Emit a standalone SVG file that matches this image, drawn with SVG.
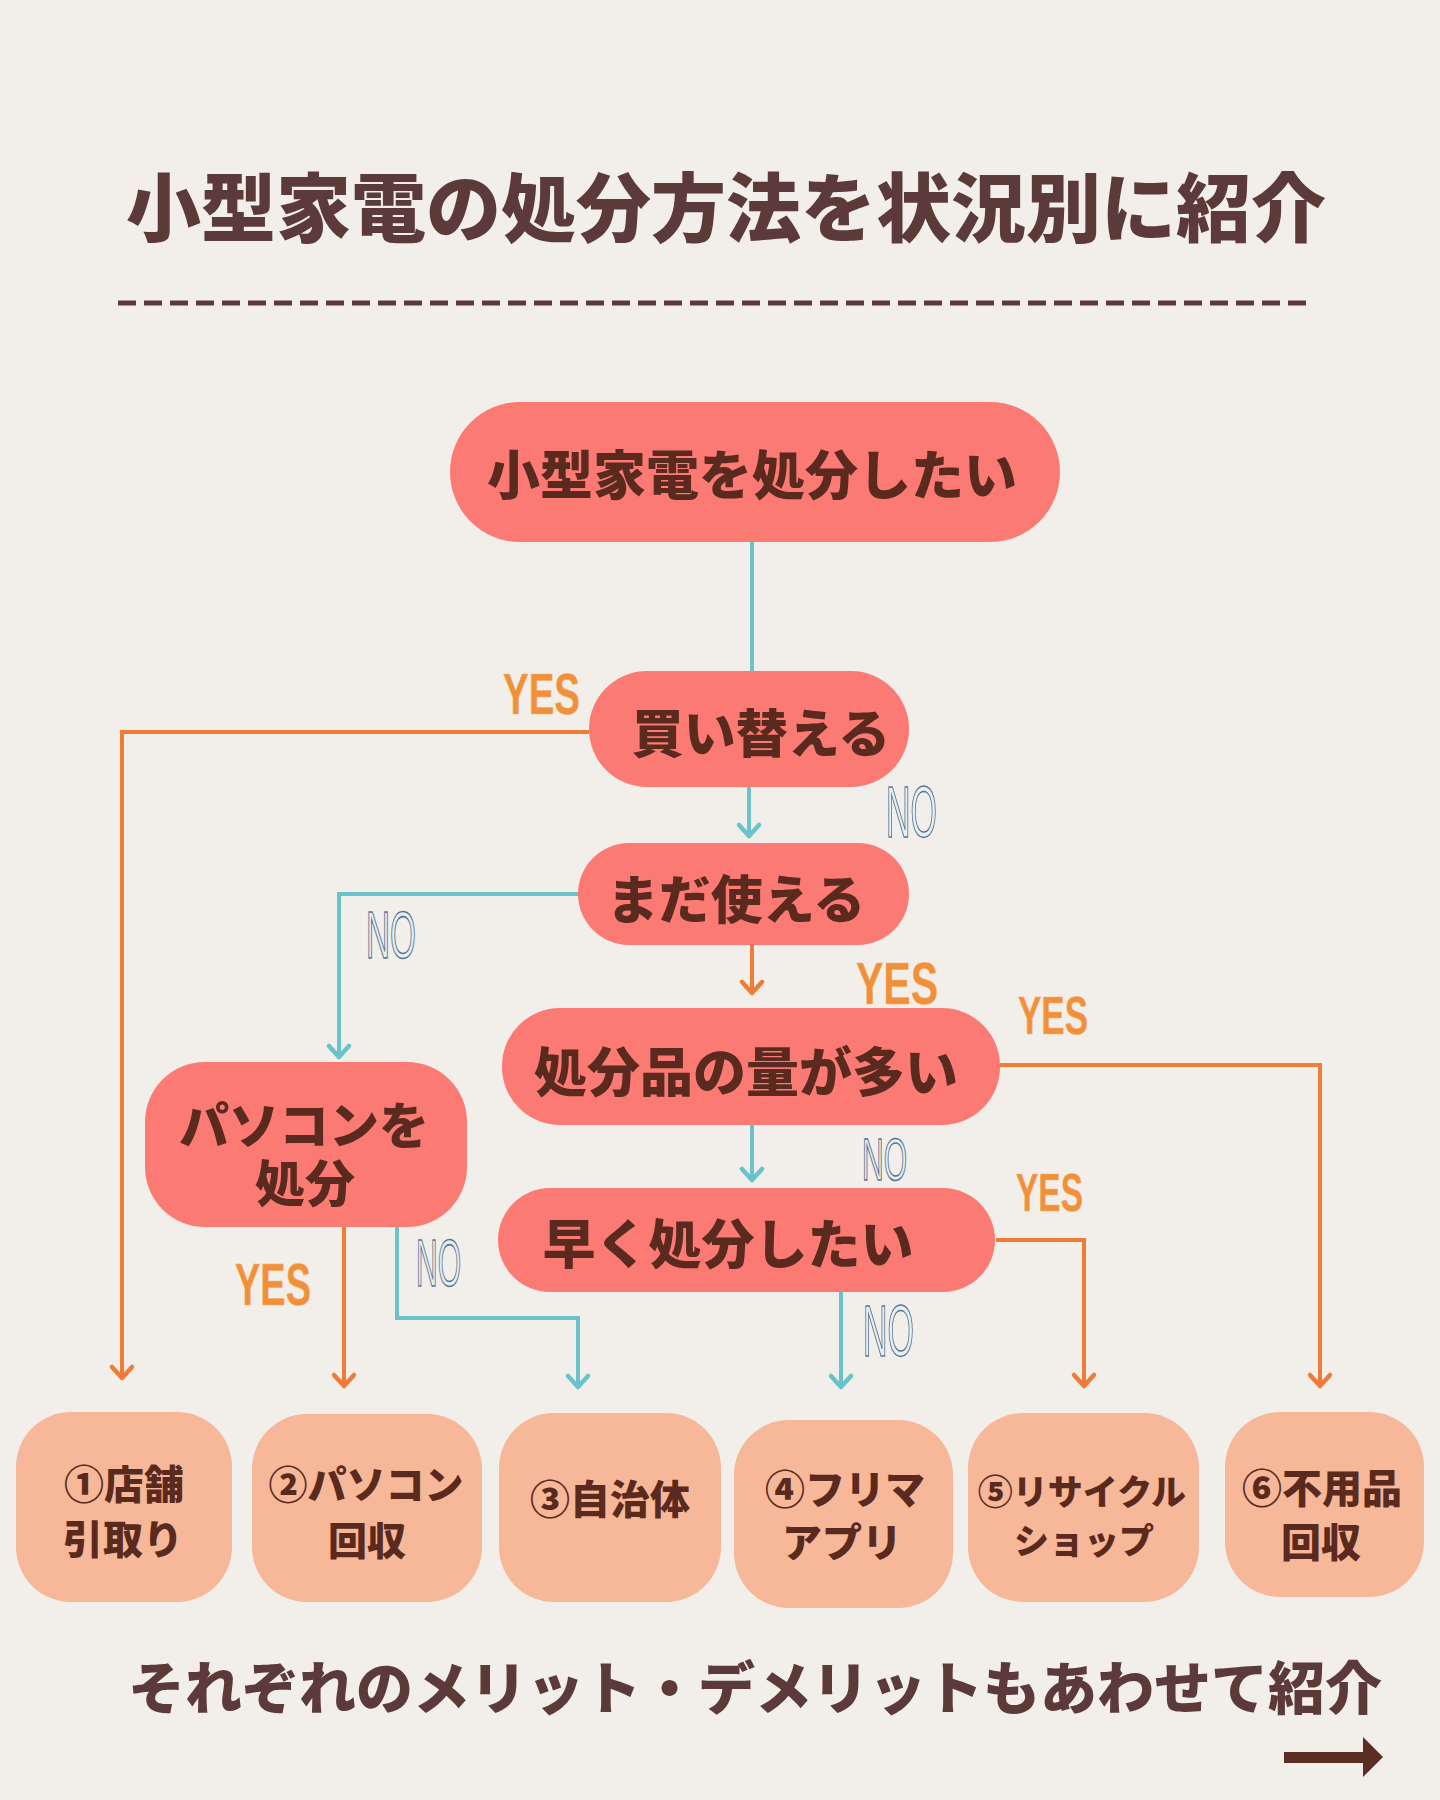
<svg xmlns="http://www.w3.org/2000/svg" width="1440" height="1800" viewBox="0 0 1440 1800">
<defs>
<style>
.jp{font-family:"Noto Sans CJK JP","Noto Sans CJK SC",sans-serif;font-weight:900;text-anchor:middle;dominant-baseline:central}
.title{fill:#5c3a39}
.node{fill:#fc7a74}
.leaf{fill:#f6b898}
.nt{fill:#5b2a1f}
.lt{fill:#5b2a1f}
.teal{fill:none;stroke:#69c3cb;stroke-width:4}
.orng{fill:none;stroke:#ef7d37;stroke-width:4}
.yes{font-family:"Liberation Sans",Arial,sans-serif;font-weight:bold;fill:#f0903a;stroke:#f6b070;stroke-width:0.6}
.no{font-family:"Liberation Sans",Arial,sans-serif;fill:#e3f1f0;stroke:#5b7393;stroke-width:1.6}
</style>
<marker id="at" markerUnits="userSpaceOnUse" markerWidth="30" markerHeight="30" viewBox="-15 -15 30 30" refX="0" refY="0" orient="auto">
<path d="M-11,-10 L0,0 L-11,10" fill="none" stroke="#69c3cb" stroke-width="4.5" stroke-linecap="round" stroke-linejoin="round"/>
</marker>
<marker id="ao" markerUnits="userSpaceOnUse" markerWidth="30" markerHeight="30" viewBox="-15 -15 30 30" refX="0" refY="0" orient="auto">
<path d="M-11,-10 L0,0 L-11,10" fill="none" stroke="#ef7d37" stroke-width="4.5" stroke-linecap="round" stroke-linejoin="round"/>
</marker>
</defs>
<rect width="1440" height="1800" fill="#f2efea"/>

<g id="header">
<text class="jp title" x="726" y="203" style="font-size:75px">小型家電の処分方法を状況別に紹介</text>
<line x1="118" y1="303" x2="1309" y2="303" stroke="#5c3a39" stroke-width="5" stroke-dasharray="18 8"/>
</g>

<g id="connectors">
<path class="teal" d="M752 542 V672"/>
<path class="orng" d="M589 732 H122 V1378" marker-end="url(#ao)"/>
<path class="teal" d="M749 787 V836" marker-end="url(#at)"/>
<path class="teal" d="M578 894 H339 V1057" marker-end="url(#at)"/>
<path class="orng" d="M752 945 V993" marker-end="url(#ao)"/>
<path class="orng" d="M1000 1065 H1320 V1386" marker-end="url(#ao)"/>
<path class="teal" d="M752 1125 V1180" marker-end="url(#at)"/>
<path class="orng" d="M996 1240 H1084 V1386" marker-end="url(#ao)"/>
<path class="teal" d="M841 1292 V1387" marker-end="url(#at)"/>
<path class="orng" d="M344 1227 V1386" marker-end="url(#ao)"/>
<path class="teal" d="M397 1227 V1318 H578 V1387" marker-end="url(#at)"/>
<text class="yes" x="503" y="714" font-size="58" textLength="77" lengthAdjust="spacingAndGlyphs">YES</text>
<text class="no" x="886" y="837" font-size="72" textLength="51" lengthAdjust="spacingAndGlyphs">NO</text>
<text class="no" x="366" y="958" font-size="67" textLength="50" lengthAdjust="spacingAndGlyphs">NO</text>
<text class="yes" x="856" y="1004" font-size="60" textLength="82" lengthAdjust="spacingAndGlyphs">YES</text>
<text class="yes" x="1018" y="1034" font-size="54" textLength="70" lengthAdjust="spacingAndGlyphs">YES</text>
<text class="no" x="862" y="1180" font-size="60" textLength="45" lengthAdjust="spacingAndGlyphs">NO</text>
<text class="yes" x="1016" y="1211" font-size="54" textLength="67" lengthAdjust="spacingAndGlyphs">YES</text>
<text class="no" x="416" y="1286" font-size="67" textLength="45" lengthAdjust="spacingAndGlyphs">NO</text>
<text class="yes" x="235" y="1305" font-size="60" textLength="76" lengthAdjust="spacingAndGlyphs">YES</text>
<text class="no" x="863" y="1356" font-size="72" textLength="51" lengthAdjust="spacingAndGlyphs">NO</text>
</g>

<g id="n-start">
<rect class="node" x="450" y="402" width="610" height="140" rx="70"/>
<text class="jp nt" x="752" y="472" style="font-size:53px">小型家電を処分したい</text>
</g>
<g id="n-kaikae">
<rect class="node" x="589" y="671" width="320" height="116" rx="58"/>
<text class="jp nt" x="761" y="730" style="font-size:52px">買い替える</text>
</g>
<g id="n-madatsukaeru">
<rect class="node" x="578" y="843" width="331" height="102" rx="51"/>
<text class="jp nt" x="736" y="896" style="font-size:52px">まだ使える</text>
</g>
<g id="n-pc">
<rect class="node" x="145" y="1062" width="322" height="165" rx="60"/>
<text class="jp nt" style="font-size:50px"><tspan x="304" y="1122">パソコンを</tspan><tspan x="305" y="1180">処分</tspan></text>
</g>
<g id="n-ryou">
<rect class="node" x="502" y="1008" width="498" height="117" rx="58"/>
<text class="jp nt" x="746" y="1069" style="font-size:53px">処分品の量が多い</text>
</g>
<g id="n-hayaku">
<rect class="node" x="498" y="1188" width="497" height="104" rx="52"/>
<text class="jp nt" x="728" y="1241" style="font-size:53px">早く処分したい</text>
</g>

<g id="r1">
<rect class="leaf" x="16" y="1412" width="216" height="190" rx="55"/>
<text class="jp lt" x="124" y="1482" style="font-size:40px">①店舗</text>
<text class="jp lt" x="123" y="1537" style="font-size:40px">引取り</text>
</g>
<g id="r2">
<rect class="leaf" x="252" y="1414" width="230" height="188" rx="55"/>
<text class="jp lt" x="366" y="1482" style="font-size:39px">②パソコン</text>
<text class="jp lt" x="367" y="1538" style="font-size:39px">回収</text>
</g>
<g id="r3">
<rect class="leaf" x="499" y="1413" width="222" height="189" rx="55"/>
<text class="jp lt" x="610" y="1497" style="font-size:40px">③自治体</text>
</g>
<g id="r4">
<rect class="leaf" x="734" y="1420" width="219" height="188" rx="55"/>
<text class="jp lt" x="845" y="1487" style="font-size:40px">④フリマ</text>
<text class="jp lt" x="842" y="1540" style="font-size:40px">アプリ</text>
</g>
<g id="r5">
<rect class="leaf" x="968" y="1413" width="231" height="189" rx="55"/>
<text class="jp lt" x="1082" y="1489" style="font-size:35px">⑤リサイクル</text>
<text class="jp lt" x="1084" y="1538" style="font-size:35px">ショップ</text>
</g>
<g id="r6">
<rect class="leaf" x="1225" y="1412" width="199" height="185" rx="55"/>
<text class="jp lt" x="1322" y="1486" style="font-size:40px">⑥不用品</text>
<text class="jp lt" x="1321" y="1540" style="font-size:40px">回収</text>
</g>

<g id="footer">
<text class="jp title" x="755" y="1684" style="font-size:57px">それぞれのメリット・デメリットもあわせて紹介</text>
<rect x="1284" y="1752" width="81" height="11" fill="#5a2e22"/>
<polygon points="1363,1737 1383,1757 1363,1777" fill="#5a2e22"/>
</g>
</svg>
